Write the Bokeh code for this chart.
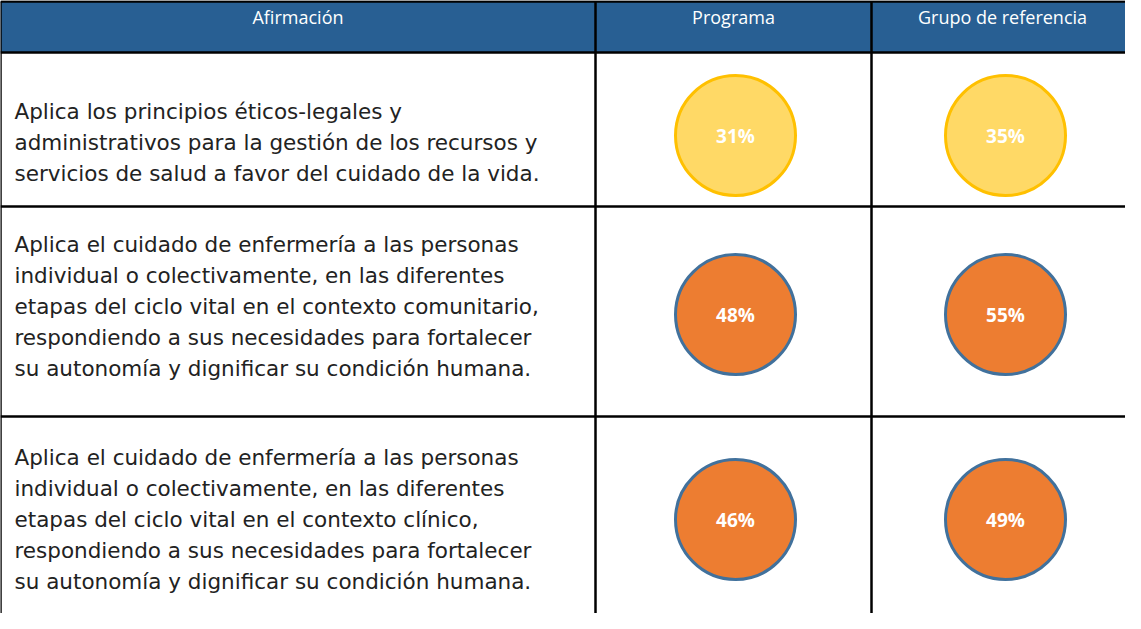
from bokeh.plotting import figure
from bokeh.models import Range1d, ColumnDataSource
from bokeh.core.properties import value
from bokeh.embed import file_html
from bokeh.resources import INLINE

# ---- data ----
encabezados = ["Afirmación", "Programa", "Grupo de referencia"]
afirmaciones = [
    "Aplica los principios éticos-legales y\nadministrativos para la gestión de los recursos y\nservicios de salud a favor del cuidado de la vida.",
    "Aplica el cuidado de enfermería a las personas\nindividual o colectivamente, en las diferentes\netapas del ciclo vital en el contexto comunitario,\nrespondiendo a sus necesidades para fortalecer\nsu autonomía y dignificar su condición humana.",
    "Aplica el cuidado de enfermería a las personas\nindividual o colectivamente, en las diferentes\netapas del ciclo vital en el contexto clínico,\nrespondiendo a sus necesidades para fortalecer\nsu autonomía y dignificar su condición humana.",
]
programa = [31, 48, 46]
grupo_referencia = [35, 55, 49]

# ---- layout (page pixel coordinates) ----
W, H = 1125, 613
col_edges = [8, 603, 879, 1150]
row_edges = [9, 60, 214, 424, 640]
circle_x = [743, 1013]
circle_y = [143, 322, 527]
text_y = [150, 314, 527]
text_x = 22

p = figure(width=W, height=H, output_backend="svg", toolbar_location=None,
           x_range=Range1d(8, 8 + W), y_range=Range1d(8 + H, 8),
           min_border=0)
p.axis.visible = False
p.grid.visible = False
p.outline_line_color = None
p.background_fill_color = "white"
p.border_fill_color = "white"

# header band
p.quad(left=[col_edges[0]], right=[col_edges[-1]], top=[row_edges[0]], bottom=[row_edges[1]],
       fill_color="#285F93", line_color=None)

col_centers = [(col_edges[i] + col_edges[i + 1]) / 2 for i in range(3)]
col_centers[2] = 1010
p.text(x=col_centers, y=[24] * 3, text=encabezados, text_color="white",
       text_font=value("Open Sans"), text_font_size="18px",
       text_align="center", text_baseline="middle")

# statements
p.text(x=[text_x] * 3, y=text_y, text=afirmaciones, text_color="#222222",
       text_font=value("DejaVu Sans"), text_font_size="21.5px",
       text_align="left", text_baseline="middle", text_line_height=1.24)

# circles
def colors(vals):
    fills = ["#FFD966" if v < 40 else "#ED7D31" for v in vals]
    lines = ["#FFC000" if v < 40 else "#41719C" for v in vals]
    return fills, lines

for ci, vals in ((0, programa), (1, grupo_referencia)):
    fills, lines = colors(vals)
    src = ColumnDataSource(dict(x=[circle_x[ci]] * 3, y=circle_y, fill=fills, line=lines,
                                lab=[f"{v}%" for v in vals]))
    p.scatter("x", "y", source=src, marker="circle", size=120,
              fill_color="fill", line_color="line", line_width=3)
    p.text("x", "y", text="lab", source=src, text_color="white",
           text_font=value("Open Sans"), text_font_style="bold", text_font_size="19px",
           text_align="center", text_baseline="middle")

# grid lines
p.segment(x0=[col_edges[0]] * 4, x1=[col_edges[-1]] * 4, y0=row_edges[:4], y1=row_edges[:4],
          line_color="black", line_width=2.5)
p.segment(x0=col_edges[:3], x1=col_edges[:3], y0=[row_edges[0]] * 3, y1=[row_edges[-1]] * 3,
          line_color="black", line_width=2.5)

open("out.html", "w").write(file_html(p, INLINE))
